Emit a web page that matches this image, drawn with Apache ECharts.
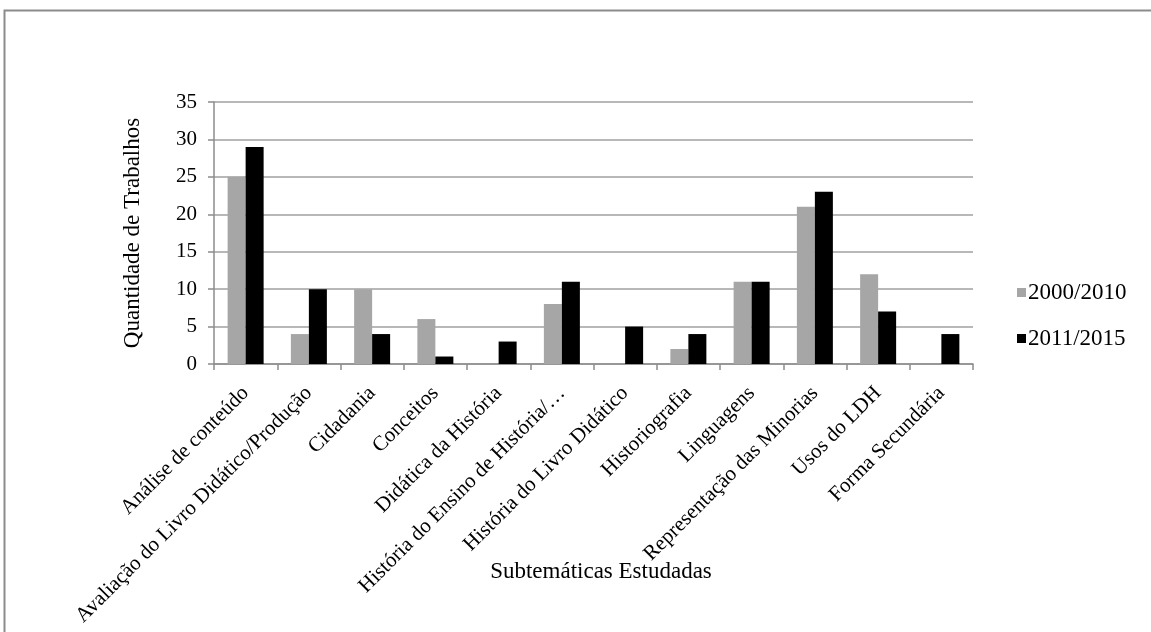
<!DOCTYPE html>
<html>
<head>
<meta charset="utf-8">
<script src="https://cdn.jsdelivr.net/npm/echarts@6/dist/echarts.min.js"></script>
<style>
  html, body { margin: 0; padding: 0; background: #fff; }
  #chart { width: 1151px; height: 632px; }
</style>
</head>
<body>
<div id="chart"></div>
<script>
// Subthemes studied and number of works per period
const categories = [
  'Análise de conteúdo',
  'Avaliação do Livro Didático/Produção',
  'Cidadania',
  'Conceitos',
  'Didática da História',
  'História do Ensino de História/…',
  'História do Livro Didático',
  'Historiografia',
  'Linguagens',
  'Representação das Minorias',
  'Usos do LDH',
  'Forma Secundária'
];
const seriesNames = ['2000/2010', '2011/2015'];
const values2000_2010 = [25, 4, 10, 6, 0, 8, 0, 2, 11, 21, 12, 0];
const values2011_2015 = [29, 10, 4, 1, 3, 11, 5, 4, 11, 23, 7, 4];
const yTicks = { min: 0, max: 35, interval: 5 };
const xAxisTitle = 'Subtemáticas Estudadas';
const yAxisTitle = 'Quantidade de Trabalhos';

const FONT = '"Liberation Serif", "Times New Roman", serif';
const AXIS_GRAY = '#8c8c8c';

const chart = echarts.init(document.getElementById('chart'), null, { renderer: 'canvas' });

chart.setOption({
  backgroundColor: '#ffffff',
  animation: false,
  textStyle: { fontFamily: FONT, color: '#000' },
  graphic: [
    {
      // outer frame of the chart area
      type: 'rect',
      shape: { x: 4.5, y: 10.5, width: 1300, height: 800 },
      style: { fill: 'none', stroke: AXIS_GRAY, lineWidth: 2 },
      silent: true
    },
    {
      // category axis title, centred under the rotated labels
      type: 'text',
      x: 601,
      y: 572,
      style: {
        text: xAxisTitle,
        fontFamily: FONT,
        fontSize: 23,
        fill: '#000',
        align: 'center',
        verticalAlign: 'middle'
      },
      silent: true
    }
  ],
  grid: {
    left: 214, right: 178, top: 102, bottom: 268,
    containLabel: false,
    outerBoundsMode: 'none'
  },
  legend: {
    orient: 'vertical',
    left: 1012,
    top: 276,
    itemWidth: 9,
    itemHeight: 9,
    itemGap: 23,
    icon: 'rect',
    data: seriesNames,
    textStyle: { fontFamily: FONT, fontSize: 23, color: '#000', lineHeight: 23, padding: [0, 0, 0, -3] }
  },
  xAxis: {
    type: 'category',
    data: categories,
    axisLine: { lineStyle: { color: AXIS_GRAY, width: 1.5 } },
    axisTick: { show: true, length: 6, lineStyle: { color: AXIS_GRAY, width: 1.5 } },
    axisLabel: {
      rotate: 45,
      interval: 0,
      margin: 26,
      fontFamily: FONT,
      fontSize: 21,
      color: '#000'
    }
  },
  yAxis: {
    type: 'value',
    min: yTicks.min,
    max: yTicks.max,
    interval: yTicks.interval,
    name: yAxisTitle,
    nameLocation: 'middle',
    nameRotate: 90,
    nameGap: 70,
    nameTextStyle: { fontFamily: FONT, fontSize: 23, color: '#000' },
    axisLine: { show: true, lineStyle: { color: AXIS_GRAY, width: 1.5 } },
    axisTick: { show: true, length: 6, lineStyle: { color: AXIS_GRAY, width: 1.5 } },
    axisLabel: { margin: 17, fontFamily: FONT, fontSize: 21, color: '#000' },
    splitLine: { show: true, lineStyle: { color: '#a0a0a0', width: 1.5 } }
  },
  series: [
    {
      name: seriesNames[0],
      type: 'bar',
      data: values2000_2010,
      barWidth: 18,
      barGap: '0%',
      itemStyle: { color: '#a6a6a6' }
    },
    {
      name: seriesNames[1],
      type: 'bar',
      data: values2011_2015,
      barWidth: 18,
      barGap: '0%',
      itemStyle: { color: '#000000' }
    }
  ]
});
</script>
</body>
</html>
